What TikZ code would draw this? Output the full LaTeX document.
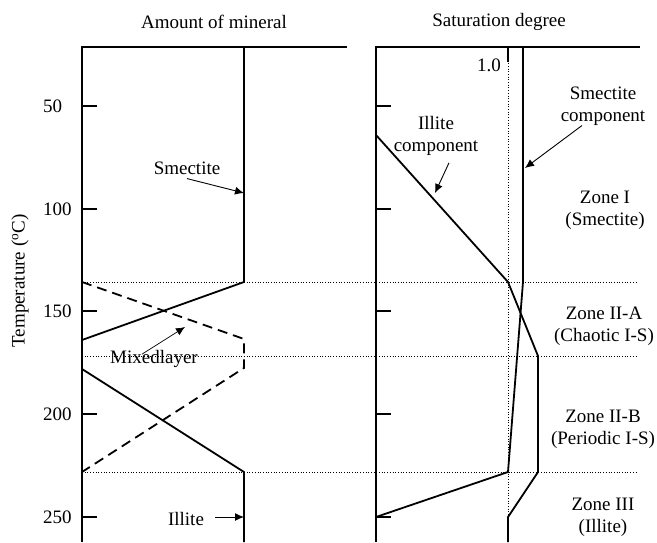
\documentclass[tikz,border=0pt]{standalone}
\usepackage{fontspec}
\setmainfont{Liberation Serif}
\usetikzlibrary{arrows.meta}

\begin{document}
\begin{tikzpicture}[x=1pt,y=-1pt,
    curve/.style={line width=1.8pt},
    frame/.style={line width=1.3pt},
    zoneline/.style={dotted, line width=0.7pt},
    lbl/.style={font=\fontsize{19}{22}\selectfont, inner sep=0pt, align=center},
    pointer/.style={-{Latex[length=9pt,width=8pt]}, line width=0.9pt}]
    \useasboundingbox (0,0) rectangle (657,543);

    % titles
    \node[lbl] (amount) at (214,22) {Amount of mineral};
    \node[lbl] (satur) at (499,22) {Saturation degree};
    \node[lbl, rotate=90] (temp) at (20,281) {Temperature (\textsuperscript{o}C)};

    % zone boundaries
    \foreach \y in {282,356,472}
        \draw[zoneline] (82,\y) -- (638,\y);
    \draw[zoneline] (508,47) -- (508,542);

    % frames and ticks
    \draw[frame] (82,542) -- (82,47) -- (347,47);
    \draw[frame] (376,542) -- (376,47) -- (640,47);
    \draw[frame] (508,47) -- (508,62);
    \foreach \y/\t in {106/50,209/100,311/150,414/200,517/250} {
        \draw[frame] (82,\y) -- (97,\y);
        \draw[frame] (376,\y) -- (391,\y);
        \node[lbl, anchor=west] (t\t) at (43,\y) {\t};
    }
    \node[lbl] (one) at (489,65) {1.0};

    % amount of mineral
    \draw[curve] (244,47) -- (244,282) -- (82,340);
    \draw[curve, dash pattern=on 10pt off 6pt] (82,282) -- (244,339) -- (244,368) -- (82,472);
    \draw[curve] (82,369) -- (244,472) -- (244,542);

    \node[lbl] (smec) at (187,168) {Smectite};
    \node[lbl] (mix) at (154,359) {Mixedlayer};
    \node[lbl] (ill) at (186,519) {Illite};
    \coordinate (smecpt) at (244,193);
    \coordinate (mixpt) at (185,327);
    \coordinate (illpt) at (244,517);
    \draw[pointer] ([yshift=-4pt]smec.south) -- (smecpt);
    \draw[pointer, line width=0.7pt] ([xshift=-12pt,yshift=-4pt]mix.north) -- (mixpt);
    \draw[pointer] ([xshift=11pt,yshift=2pt]ill.east) -- (illpt);

    % saturation degree
    \draw[curve] (376,135) -- (508,282) -- (538,356) -- (538,472) -- (508,517) -- (508,542);
    \draw[curve] (523,47) -- (523,282) -- (508,472) -- (376,517);

    \node[lbl] (smcomp) at (603,106) {Smectite\\component};
    \node[lbl] (ilcomp) at (436,136) {Illite\\component};
    \coordinate (smcpt) at (525,168);
    \coordinate (ilcpt) at (435,193);
    \draw[pointer] ([xshift=-21pt]smcomp.south) -- (smcpt);
    \draw[pointer] ([xshift=13pt,yshift=-7pt]ilcomp.south) -- (ilcpt);

    % zones
    \node[lbl] (zone1) at (605,210) {Zone I\\(Smectite)};
    \node[lbl] (zone2a) at (604,326) {Zone II-A\\(Chaotic I-S)};
    \node[lbl] (zone2b) at (603,429) {Zone II-B\\(Periodic I-S)};
    \node[lbl] (zone3) at (603,517) {Zone III\\(Illite)};
\end{tikzpicture}
\end{document}
